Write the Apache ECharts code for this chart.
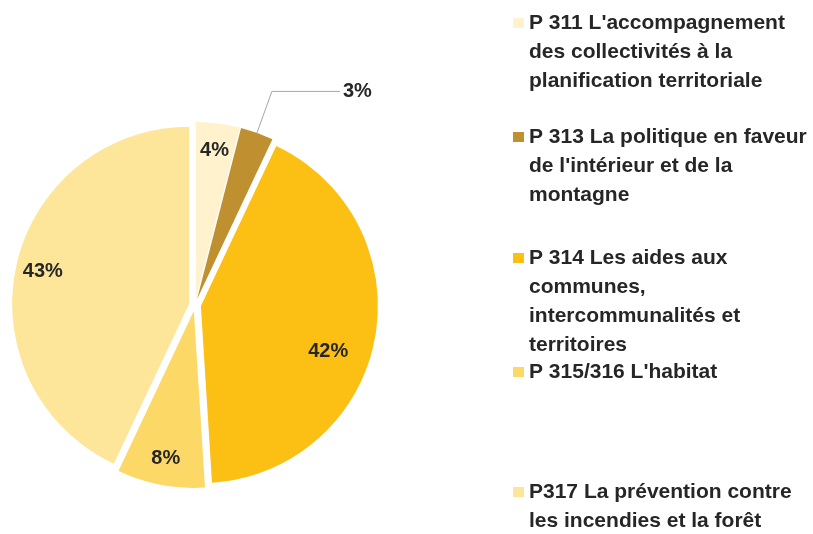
<!DOCTYPE html>
<html>
<head>
<meta charset="utf-8">
<script src="https://cdn.jsdelivr.net/npm/echarts@6/dist/echarts.min.js"></script>
<style>
html, body { margin: 0; padding: 0; background: #fff; }
#main { width: 813px; height: 534px; }
</style>
</head>
<body>
<div id="main"></div>
<script>
// programmes (legend names) and their share of the total, in %
const programmes = [
  "P 311 L'accompagnement des collectivités à la planification territoriale",
  "P 313 La politique en faveur de l'intérieur et de la montagne",
  "P 314 Les aides aux communes, intercommunalités et territoires",
  "P 315/316 L'habitat",
  "P317 La prévention contre les incendies et la forêt"
];
// legend text as it wraps in the picture
const legendLines = [
  ["P 311 L'accompagnement", "des collectivités à la", "planification territoriale"],
  ["P 313 La politique en faveur", "de l'intérieur et de la", "montagne"],
  ["P 314 Les aides aux", "communes,", "intercommunalités et", "territoires"],
  ["P 315/316 L'habitat"],
  ["P317 La prévention contre", "les incendies et la forêt"]
];
const shares = [4, 3, 42, 8, 43];
const colors = ['#FFF2CC', '#BF9030', '#FBC013', '#FCD867', '#FDE699'];

const font = '"Liberation Sans Narrow", "Liberation Sans", sans-serif';
const lh = 29;
// y of the first text line of each legend entry
const legendFirstLine = [23, 137, 258, 372, 492];

const center = [195, 305];
const R = 177;

// the legend keeps its square next to the first line: blank lines above push the
// vertically centred text block down so its first real line sits by the square
let legends = programmes.map((name, i) => {
  const n = legendLines[i].length;
  return {
    orient: 'vertical',
    left: 513,
    top: legendFirstLine[i] - (n - 0.5) * lh,
    padding: 0,
    icon: 'rect',
    itemWidth: 11,
    itemHeight: 10,
    itemGap: 5,
    selectedMode: false,
    data: [name],
    formatter: () => '\n'.repeat(n - 1) + legendLines[i].join('\n'),
    textStyle: {
      fontFamily: font,
      fontWeight: 'bold',
      fontSize: 21,
      lineHeight: lh,
      color: '#262626'
    }
  };
});

let slices = programmes.map((name, i) => ({
  name: name,
  value: shares[i],
  selected: true,
  itemStyle: { color: colors[i] },
  label: { show: i === 1 }
}));

let labelSlices = programmes.map((name, i) => ({
  name: name,
  value: shares[i],
  selected: true,
  label: { show: i !== 1 }
}));

option = {
  animation: false,
  backgroundColor: '#fff',
  legend: legends,
  series: [
    {
      type: 'pie',
      center: center,
      radius: [0, R],
      startAngle: 90,
      clockwise: true,
      selectedMode: 'multiple',
      selectedOffset: 6,
      avoidLabelOverlap: false,
      emphasis: { disabled: true },
      data: slices,
      label: {
        position: 'outside',
        formatter: '{c}%',
        fontFamily: font,
        fontWeight: 'bold',
        fontSize: 20,
        color: '#262626',
        distanceToLabelLine: 3
      },
      labelLine: {
        show: true,
        length: 44,
        length2: 68,
        lineStyle: { color: '#A6A6A6', width: 1 }
      }
    },
    {
      type: 'pie',
      center: center,
      radius: [R * 0.66, R],
      startAngle: 90,
      clockwise: true,
      silent: true,
      legendHoverLink: false,
      selectedMode: 'multiple',
      selectedOffset: 6,
      avoidLabelOverlap: false,
      itemStyle: { color: 'rgba(0,0,0,0)' },
      data: labelSlices,
      label: {
        position: 'inside',
        formatter: '{c}%',
        fontFamily: font,
        fontWeight: 'bold',
        fontSize: 20,
        color: '#262626'
      },
      // the big slice's label sits a bit further in, as Excel placed it
      labelLayout: (p) => p.dataIndex === 2 ? { dx: -20, dy: 17 } : {},
      labelLine: { show: false }
    }
  ]
};

var myChart = echarts.init(document.getElementById('main'));
myChart.setOption(option);
</script>
</body>
</html>
